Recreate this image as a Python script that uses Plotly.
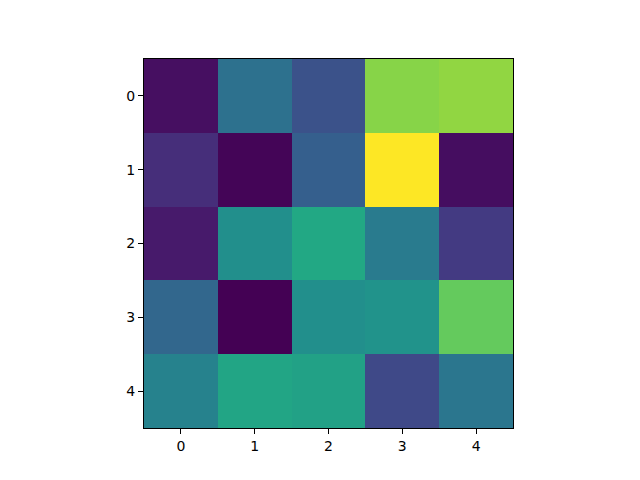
import plotly.graph_objects as go

rows = [0, 1, 2, 3, 4]
cols = [0, 1, 2, 3, 4]
values = [
    [0.04, 0.37, 0.25, 0.82, 0.835],
    [0.13, 0.01, 0.30, 1.00, 0.035],
    [0.07, 0.49, 0.60, 0.41, 0.17],
    [0.33, 0.00, 0.49, 0.51, 0.76],
    [0.44, 0.585, 0.57, 0.22, 0.39],
]

# matplotlib viridis sampled at 0.1 steps
viridis_hex = ["#440154", "#482475", "#414487", "#355f8d", "#2a788e", "#21918c",
               "#22a884", "#44bf70", "#7ad151", "#bddf26", "#fde725"]
colorscale = [[i / 10, c] for i, c in enumerate(viridis_hex)]

fig = go.Figure(go.Heatmap(
    z=values, x=cols, y=rows,
    colorscale=colorscale, zmin=0, zmax=1, showscale=False,
))

axis_common = dict(
    showgrid=False, zeroline=False, showline=True, linecolor="black", linewidth=1,
    mirror=True, ticks="outside", ticklen=5, tickcolor="black",
    tickfont=dict(family="DejaVu Sans", size=14, color="black"),
    tickmode="array", tickvals=cols, ticktext=[str(c) for c in cols],
)
fig.update_xaxes(**axis_common, range=[-0.5, 4.5])
fig.update_yaxes(**axis_common, range=[4.5, -0.5])
fig.update_layout(
    width=640, height=480,
    margin=dict(l=136, r=135, t=51, b=60),
    plot_bgcolor="white", paper_bgcolor="white",
)
fig.write_html("out.html")
